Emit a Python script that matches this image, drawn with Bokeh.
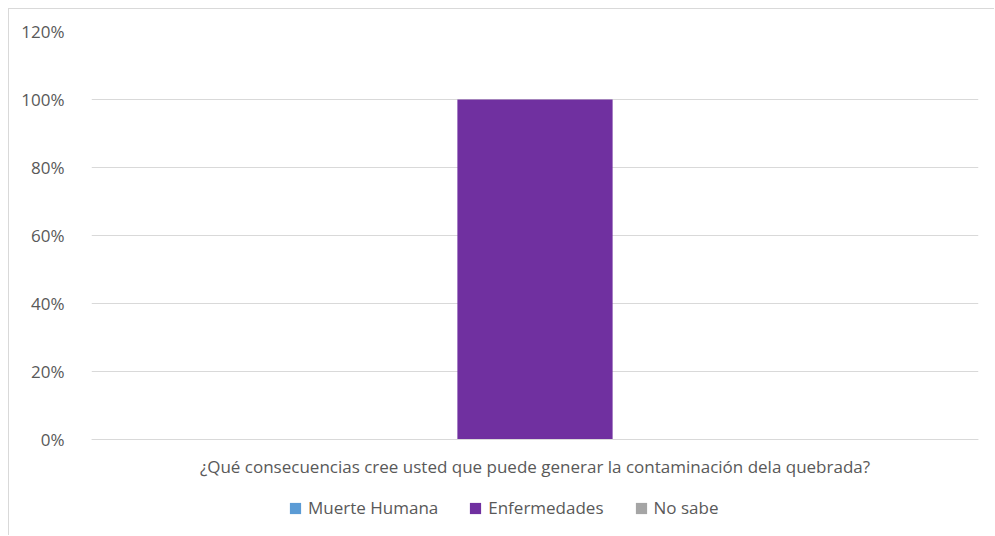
from bokeh.plotting import figure
from bokeh.models import FactorRange, Range1d, FixedTicker, NumeralTickFormatter, Legend, LegendItem, ColumnDataSource
from bokeh.transform import dodge
from bokeh.embed import file_html
from bokeh.resources import INLINE

categories = ["¿Qué consecuencias cree usted que puede generar la contaminación dela quebrada?"]
series_names = ["Muerte Humana", "Enfermedades", "No sabe"]
muerte_humana = [0.0]
enfermedades = [1.0]
no_sabe = [0.0]
y_ticks = [0, 0.2, 0.4, 0.6, 0.8, 1.0, 1.2]

colors = ["#5b9bd5", "#7030a0", "#a5a5a5"]
FONT = "Open Sans"
FS = "17px"
TXT = "#595959"

source = ColumnDataSource(data=dict(cat=categories, s0=muerte_humana, s1=enfermedades, s2=no_sabe))

# frame extends down to the bottom edge; the category axis is pinned at y=0
p = figure(x_range=FactorRange(factors=categories, range_padding=0),
           y_range=Range1d(-0.285, 1.2),
           width=986, height=527, output_backend="svg", toolbar_location=None,
           min_border_left=82, min_border_top=22, min_border_right=17, min_border_bottom=0)
p.outline_line_color = None
p.background_fill_color = "white"
p.border_fill_color = "white"

bar_w = 0.175
items = []
for i, (name, col) in enumerate(zip(series_names, colors)):
    r = p.vbar(x=dodge("cat", (i - 1) * bar_w, range=p.x_range), top=f"s{i}", bottom=0,
               width=bar_w, source=source, fill_color=col, line_color=None)
    items.append(LegendItem(label=name, renderers=[r]))

p.yaxis.ticker = FixedTicker(ticks=y_ticks)
p.yaxis.formatter = NumeralTickFormatter(format="0%")
p.yaxis.axis_line_color = None
p.yaxis.major_tick_line_color = None
p.yaxis.minor_tick_line_color = None
p.yaxis.major_label_standoff = 21
p.yaxis.major_label_text_font = FONT
p.yaxis.major_label_text_font_size = FS
p.yaxis.major_label_text_color = TXT

p.xaxis.fixed_location = 0
p.xaxis.axis_line_color = "#d9d9d9"
p.xaxis.major_tick_line_color = None
p.xaxis.minor_tick_line_color = None
p.xaxis.major_label_standoff = 9
p.xaxis.major_label_text_font = FONT
p.xaxis.major_label_text_font_size = FS
p.xaxis.major_label_text_color = TXT

p.xgrid.grid_line_color = None
p.ygrid.grid_line_color = "#d9d9d9"
p.ygrid.grid_line_width = 1

legend = Legend(items=items, orientation="horizontal", location=(197, 17),
                border_line_color=None, background_fill_alpha=0,
                glyph_width=14, glyph_height=14, label_standoff=6, spacing=30,
                label_text_font=FONT, label_text_font_size=FS, label_text_color=TXT,
                padding=0, margin=0)
p.add_layout(legend, "center")

p.styles = {"margin-left": "8px", "margin-top": "8px",
            "border-left": "1px solid #d9d9d9", "border-top": "1px solid #d9d9d9"}

open("out.html", "w").write(file_html(p, INLINE))
